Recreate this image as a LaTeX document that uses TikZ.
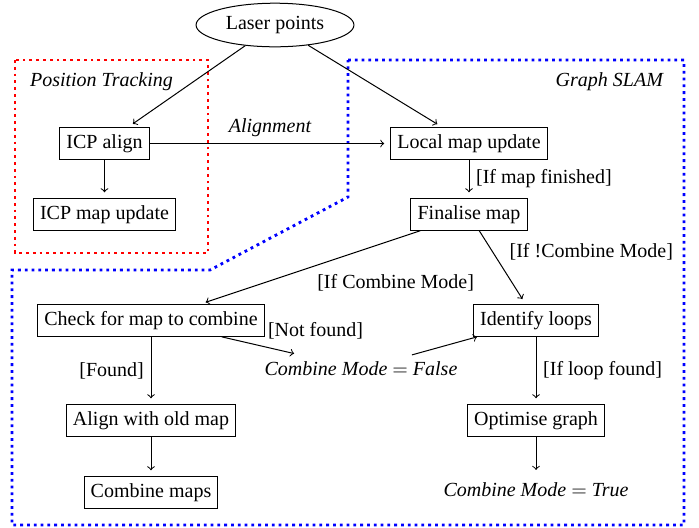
\documentclass[tikz,border=0pt]{standalone}
\usepackage{fontspec}
\setmainfont{Liberation Serif}
\usepackage{tikz}
\usetikzlibrary{shapes.geometric}
\tikzset{
  proc/.style    ={draw, line width=0.5pt, align=center},
  src/.style     ={draw, ellipse, line width=0.5pt},
  state/.style   ={font=\itshape},
  arr/.style     ={->, line width=0.5pt, shorten >=3pt},
  arrtouch/.style={->, line width=0.5pt},
  region/.style  ={line width=1.4pt, dotted},
  regiontitle/.style={font=\itshape},
}

\begin{document}
\begin{tikzpicture}[x=0.5pt,y=-0.5pt]
  \useasboundingbox (0,0) rectangle (699,527);

  \draw[region, red]  (15,60) rectangle (208,253);
  \draw[region, blue] (348,60) -- (684,60) -- (684,525) -- (12,525)
    -- (12,270) -- (210,270) -- (348,197) -- cycle;
  \node[regiontitle, anchor=west] (trackttl) at (23,82) {Position Tracking};
  \node[regiontitle, anchor=east] (slamttl) at (670,82) {Graph SLAM};

  \node[src]  (laser)     at (275,25)    {Laser points};
  \node[proc] (icpalign)  at (104.5,143.5) {ICP align};
  \node[proc] (icpupdate) at (104.5,214.5) {ICP map update};
  \node[proc] (localmap)  at (469,143.5) {Local map update};
  \node[proc] (finalise)  at (469,214.5) {Finalise map};
  \node[proc] (checkmap)  at (151,320.5) {Check for map to combine};
  \node[proc] (loops)     at (536,320.5) {Identify loops};
  \node[state] (modefalse) at (361,369)  {Combine Mode $=$ False};
  \node[proc] (alignold)  at (151,420.5) {Align with old map};
  \node[proc] (optimise)  at (536,420.5) {Optimise graph};
  \node[proc] (combine)   at (151,492.5) {Combine maps};
  \node[state] (modetrue) at (536,490)   {Combine Mode $=$ True};

  \draw[arr] (laser) -- (icpalign);
  \draw[arr] (laser) -- (localmap);
  \draw[arr] (icpalign) -- (icpupdate);
  \draw[arr] (icpalign) -- node[above, font=\itshape] {Alignment} (localmap);
  \draw[arr] (localmap) -- node[right] {[If map finished]} (finalise);
  \draw[arr] (finalise) -- node[below right] {[If Combine Mode]} (checkmap);
  \draw[arr] (finalise) -- node[above right] {[If !Combine Mode]} (loops);
  \draw[arr] (checkmap) -- node[above right] {[Not found]} (modefalse);
  \draw[arr] (checkmap) -- node[left] {[Found]} (alignold);
  \draw[arrtouch] (modefalse) -- (loops);
  \draw[arr] (loops) -- node[right] {[If loop found]} (optimise);
  \draw[arr] (alignold) -- (combine);
  \draw[arr] (optimise) -- (modetrue);
\end{tikzpicture}
\end{document}
